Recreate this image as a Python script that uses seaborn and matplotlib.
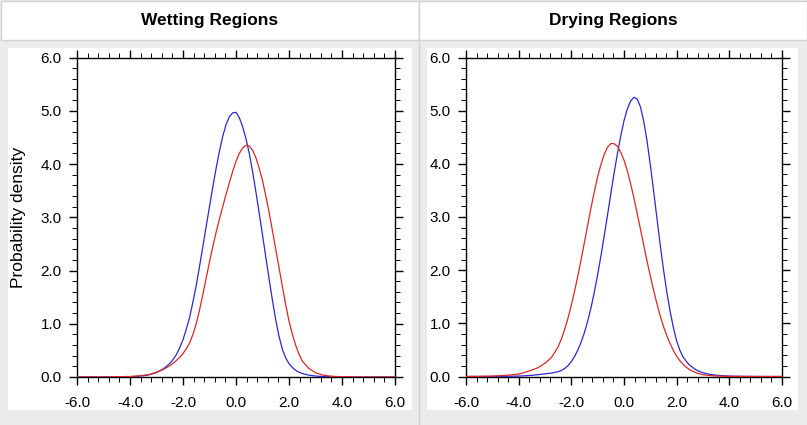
import matplotlib
matplotlib.use('Agg')
import matplotlib.pyplot as plt
from matplotlib.patches import Rectangle
from matplotlib.ticker import AutoMinorLocator, FormatStrFormatter
import seaborn as sns
import pandas as pd

# Values (finer spacing near the peaks).
x_vals = [-6, -5.5, -5, -4.5, -4, -3.75, -3.5, -3.25, -3, -2.75,
          -2.5, -2.375, -2.25, -2.125, -2, -1.875, -1.75, -1.625, -1.5, -1.375,
          -1.25, -1.125, -1, -0.875, -0.75, -0.625, -0.5, -0.375, -0.25, -0.125,
          0, 0.125, 0.25, 0.375, 0.5, 0.625, 0.75, 0.875, 1, 1.125,
          1.25, 1.375, 1.5, 1.625, 1.75, 1.875, 2, 2.125, 2.25, 2.375, 2.5,
          2.75, 3, 3.25, 3.5, 3.75, 4, 4.5, 5, 5.5, 6]

wet_blue = [0.0, 0.0, 0.0, 0.001, 0.005, 0.011, 0.022, 0.045, 0.085, 0.15,
            0.25, 0.33, 0.42, 0.55, 0.70, 0.9, 1.12, 1.41, 1.72, 2.08,
            2.45, 2.83, 3.2, 3.57, 3.92, 4.24, 4.52, 4.74, 4.89, 4.96,
            4.97, 4.87, 4.7, 4.48, 4.2, 3.86, 3.48, 3.08, 2.67, 2.25,
            1.84, 1.44, 1.07, 0.76, 0.52, 0.36, 0.25, 0.18, 0.125, 0.09, 0.065,
            0.035, 0.018, 0.009, 0.005, 0.002, 0.001, 0.0, 0.0, 0.0, 0.0]
wet_red = [0.0, 0.001, 0.002, 0.004, 0.01, 0.018, 0.03, 0.05, 0.09, 0.14,
           0.21, 0.255, 0.31, 0.37, 0.44, 0.53, 0.64, 0.8, 1.0, 1.26,
           1.55, 1.86, 2.16, 2.45, 2.72, 2.97, 3.2, 3.43, 3.65, 3.86,
           4.05, 4.2, 4.3, 4.35, 4.34, 4.26, 4.12, 3.92, 3.69, 3.4,
           3.09, 2.75, 2.4, 2.05, 1.7, 1.36, 1.05, 0.81, 0.6, 0.43, 0.3,
           0.16, 0.08, 0.04, 0.02, 0.01, 0.005, 0.001, 0.0, 0.0, 0.0]
dry_blue = [0.0, 0.0, 0.001, 0.003, 0.008, 0.014, 0.022, 0.035, 0.05, 0.065,
            0.09, 0.115, 0.15, 0.205, 0.28, 0.38, 0.5, 0.65, 0.83, 1.05,
            1.3, 1.59, 1.92, 2.27, 2.65, 3.04, 3.44, 3.83, 4.19, 4.52,
            4.81, 5.03, 5.18, 5.25, 5.22, 5.07, 4.8, 4.43, 3.98, 3.49,
            2.98, 2.48, 2.01, 1.59, 1.23, 0.92, 0.67, 0.49, 0.36, 0.28, 0.21,
            0.12, 0.07, 0.04, 0.025, 0.015, 0.008, 0.003, 0.001, 0.0, 0.0]
dry_red = [0.001, 0.003, 0.008, 0.02, 0.045, 0.08, 0.12, 0.17, 0.25, 0.36,
           0.56, 0.71, 0.89, 1.10, 1.34, 1.61, 1.9, 2.21, 2.53, 2.86,
           3.18, 3.48, 3.76, 3.99, 4.18, 4.31, 4.38, 4.38, 4.33, 4.22,
           4.07, 3.87, 3.63, 3.36, 3.07, 2.77, 2.47, 2.17, 1.89, 1.62,
           1.37, 1.14, 0.94, 0.77, 0.62, 0.49, 0.38, 0.296, 0.226, 0.17, 0.126,
           0.067, 0.034, 0.018, 0.009, 0.005, 0.002, 0.001, 0.0, 0.0, 0.0]

panel_titles = ['Wetting Regions', 'Drying Regions']
x_ticks = [-6, -4, -2, 0, 2, 4, 6]
y_ticks = [0, 1, 2, 3, 4, 5, 6]

frames = []
for panel, blue, red in [(panel_titles[0], wet_blue, wet_red), (panel_titles[1], dry_blue, dry_red)]:
    frames.append(pd.DataFrame({'x': x_vals, 'density': blue, 'series': 'blue', 'panel': panel}))
    frames.append(pd.DataFrame({'x': x_vals, 'density': red, 'series': 'red', 'panel': panel}))
df = pd.concat(frames, ignore_index=True)

sns.set_style('ticks')
plt.rcParams['font.family'] = ['Liberation Sans', 'DejaVu Sans']
plt.rcParams['axes.unicode_minus'] = False
plt.rcParams['text.color'] = 'black'
plt.rcParams['axes.labelcolor'] = 'black'
plt.rcParams['xtick.color'] = 'black'
plt.rcParams['ytick.color'] = 'black'

W, H = 807, 425
fig = plt.figure(figsize=(W / 100, H / 100), dpi=100)
fig.patch.set_facecolor('#ebebeb')


def rect(x0, y0, x1, y1):
    # pixel box (top-left origin) -> figure fraction
    return x0 / W, 1 - y1 / H, (x1 - x0) / W, (y1 - y0) / H


# header boxes and white panel backgrounds
for box in [(0.5, 1, 419, 40), (419, 1, 806.5, 40)]:
    l, b, w, h = rect(*box)
    fig.add_artist(Rectangle((l, b), w, h, transform=fig.transFigure,
                             facecolor='white', edgecolor='#d2d2d2', lw=1, zorder=0))
for box in [(8, 48, 412, 410), (427, 48, 798, 410)]:
    l, b, w, h = rect(*box)
    fig.add_artist(Rectangle((l, b), w, h, transform=fig.transFigure,
                             facecolor='white', edgecolor='none', zorder=0))
fig.add_artist(plt.Line2D([419 / W, 419 / W], [0, 1 - 40 / H], transform=fig.transFigure,
                          color='#d2d2d2', lw=1, zorder=0))

fig.text(210 / W, 1 - 21 / H, panel_titles[0], ha='center', va='center',
         fontsize=12.5, fontweight='bold')
fig.text(613 / W, 1 - 21 / H, panel_titles[1], ha='center', va='center',
         fontsize=12.5, fontweight='bold')

axes_boxes = [(77, 57.5, 395, 377), (466, 57.5, 782, 376.5)]
palette = {'blue': '#2a2ad0', 'red': '#dd2626'}

for i, (panel, box) in enumerate(zip(panel_titles, axes_boxes)):
    ax = fig.add_axes(rect(*box))
    sub = df[df['panel'] == panel]
    sns.lineplot(data=sub, x='x', y='density', hue='series', palette=palette,
                 linewidth=0.9, legend=False, ax=ax, zorder=3)
    ax.set_xlim(-6, 6)
    ax.set_ylim(0, 6)
    ax.set_xticks(x_ticks)
    ax.set_yticks(y_ticks)
    ax.xaxis.set_major_formatter(FormatStrFormatter('%.1f'))
    ax.yaxis.set_major_formatter(FormatStrFormatter('%.1f'))
    ax.xaxis.set_minor_locator(AutoMinorLocator(5))
    ax.yaxis.set_minor_locator(AutoMinorLocator(5))
    ax.tick_params(which='both', direction='out', top=True, right=True, color='black')
    ax.tick_params(which='major', length=6, width=1, labelsize=11, pad=5)
    ax.tick_params(axis='x', which='major', pad=8)
    ax.tick_params(which='minor', length=3.5, width=0.7)
    for s in ax.spines.values():
        s.set_linewidth(1)
        s.set_color('black')
    ax.set_facecolor('white')
    ax.set_xlabel('')
    if i == 0:
        ax.set_ylabel('Probability density', fontsize=12.5)
        ax.yaxis.set_label_coords(-0.16, 0.5)
    else:
        ax.set_ylabel('')

fig.savefig('out.png', dpi=100, facecolor=fig.get_facecolor())
